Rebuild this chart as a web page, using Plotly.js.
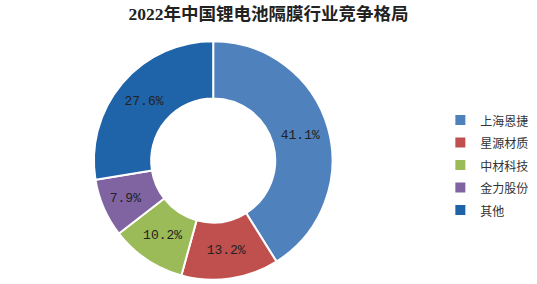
<!DOCTYPE html>
<html><head><meta charset="utf-8">
<script src="https://cdn.plot.ly/plotly-3.0.1.min.js"></script>
<style>html,body{margin:0;padding:0;background:#fff}</style>
</head><body>
<div id="chart" style="width:537px;height:284px"></div>
<script>
const companies = ['上海恩捷', '星源材质', '中材科技', '金力股份', '其他'];
const shares = [41.1, 13.2, 10.2, 7.9, 27.6];
const colors = ['#4F81BD', '#C0504D', '#9BBB59', '#8064A2', '#1F63A8'];

const trace = {
  type: 'pie',
  labels: companies.map(c => '<span style="font-size:12px">' + c + '</span>'),
  values: shares,
  sort: false,
  direction: 'clockwise',
  rotation: 0,
  hole: 0.52,
  marker: {colors: colors, line: {color: '#ffffff', width: 2}},
  texttemplate: '%{value:.1f}%',
  textposition: 'inside',
  insidetextorientation: 'horizontal',
  textfont: {family: 'Liberation Mono, DejaVu Sans Mono, monospace', size: 13, color: '#222'},
  domain: {x: [0.172, 0.622], y: [0.015, 0.855]},
  hoverinfo: 'label+percent'
};

const layout = {
  width: 537, height: 284,
  margin: {l: 0, r: 0, t: 0, b: 0},
  paper_bgcolor: '#fff',
  title: {text: '2022年中国锂电池隔膜行业竞争格局', x: 0.5, xanchor: 'center', y: 0.95, yanchor: 'middle',
          font: {family: 'Liberation Serif, Noto Sans CJK SC, serif', size: 17.5, color: '#222', weight: 'bold'}},
  showlegend: true,
  legend: {x: 0.82, y: 0.635, xanchor: 'left', yanchor: 'top',
           font: {family: 'Noto Sans CJK SC, sans-serif', size: 15, color: '#333'},
           itemwidth: 30, traceorder: 'normal'}
};

Plotly.newPlot('chart', [trace], layout, {displayModeBar: false, staticPlot: true});
</script>
</body></html>
